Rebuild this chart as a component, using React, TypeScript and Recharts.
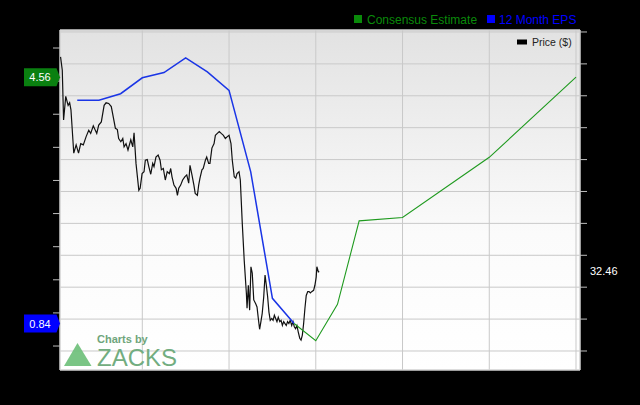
import React from "react";
import {
  ComposedChart,
  Line,
  XAxis,
  YAxis,
  CartesianGrid,
  ReferenceArea,
} from "recharts";

// time axis is in quarters from the first grid line
const gridQuarters = [4, 8, 12, 16, 20, 24];

const epsQuarters = [1, 2, 3, 4, 5, 6, 7, 8, 9, 10, 11];
const epsValues = [4.21, 4.21, 4.31, 4.55, 4.63, 4.85, 4.64, 4.36, 3.13, 1.22, 0.84];

const estQuarters = [11, 12, 13, 14, 16, 20, 24];
const estValues = [0.84, 0.58, 1.13, 2.39, 2.44, 3.35, 4.56];

const priceTimes = [
  0.23, 0.31, 0.37, 0.47, 0.58, 0.65, 0.71, 0.84, 0.95, 1.06, 1.16, 1.28, 1.41, 1.53, 1.62, 1.74,
  1.9, 1.99, 2.11, 2.24, 2.33, 2.45, 2.57, 2.66, 2.76, 2.85, 2.91, 3.01, 3.1, 3.16, 3.25, 3.34,
  3.47, 3.56, 3.62, 3.71, 3.84, 3.9, 3.99, 4.08, 4.14, 4.23, 4.3, 4.39, 4.48, 4.54, 4.63, 4.73,
  4.82, 4.88, 4.97, 5.06, 5.15, 5.25, 5.31, 5.37, 5.46, 5.56, 5.62, 5.68, 5.77, 5.86, 5.96, 6.05,
  6.14, 6.2, 6.29, 6.38, 6.44, 6.54, 6.6, 6.66, 6.75, 6.81, 6.91, 6.97, 7.06, 7.12, 7.21, 7.31,
  7.37, 7.46, 7.55, 7.64, 7.74, 7.83, 7.92, 8.0, 8.09, 8.15, 8.24, 8.31, 8.37, 8.46, 8.52, 8.61,
  8.7, 8.8, 8.83, 8.89, 8.95, 9.01, 9.07, 9.14, 9.23, 9.29, 9.35, 9.41, 9.47, 9.53, 9.6, 9.66,
  9.72, 9.78, 9.84, 9.9, 9.97, 10.03, 10.09, 10.15, 10.21, 10.27, 10.34, 10.4, 10.46, 10.52, 10.58,
  10.64, 10.7, 10.76, 10.82, 10.89, 10.95, 11.01, 11.07, 11.13, 11.19, 11.26, 11.32, 11.38, 11.44,
  11.5, 11.56, 11.63, 11.69, 11.75, 11.81, 11.9, 11.96, 12.02, 12.05, 12.12, 12.16,
];
const priceValues = [
  66.1, 64.0, 56.2, 59.9, 58.5, 58.9, 57.8, 51.0, 52.3, 51.0, 52.5, 52.3, 53.6, 54.6, 54.1, 55.3,
  54.1, 55.4, 55.9, 58.5, 58.9, 58.8, 58.3, 56.7, 54.9, 54.7, 53.3, 52.8, 53.3, 52.0, 52.5, 51.5,
  53.1, 52.0, 54.2, 49.4, 45.2, 45.5, 47.8, 48.1, 49.9, 50.0, 48.9, 47.7, 49.4, 48.9, 50.4, 50.7,
  49.9, 48.4, 48.6, 46.8, 48.1, 47.8, 48.6, 47.3, 46.0, 45.5, 44.4, 45.5, 46.0, 46.8, 47.3, 47.6,
  46.3, 49.1, 47.6, 46.0, 44.7, 44.4, 46.0, 47.1, 48.4, 48.6, 49.9, 50.4, 49.4, 49.4, 51.8, 52.5,
  53.8, 54.1, 54.4, 54.1, 53.8, 53.3, 53.6, 53.8, 52.5, 49.9, 47.3, 47.1, 47.8, 48.1, 46.8, 40.0,
  34.2, 29.0, 26.7, 30.3, 26.4, 33.2, 32.2, 28.0, 27.4, 26.9, 25.1, 23.4, 24.6, 25.9, 28.5, 31.9,
  30.3, 28.5, 26.1, 24.8, 25.1, 24.8, 25.6, 25.1, 24.6, 25.3, 24.6, 24.8, 24.0, 24.6, 24.3,
  24.0, 24.6, 24.3, 24.8, 24.0, 24.6, 23.8, 23.5, 24.0, 23.0, 22.0, 21.7, 22.5, 24.3,
  26.7, 28.7, 29.3, 29.3, 29.1, 29.3, 29.5, 30.3, 31.6, 33.2, 32.4, 32.46,
];

const epsTicks = [0.5, 1, 1.5, 2, 2.5, 3, 3.5, 4, 4.5, 5];
const priceTicks = [20, 25, 30, 35, 40, 45, 50, 55, 60, 65, 70];
const epsTags = [0.84, 4.56];
const priceTags = [32.46];

const timeDomain = [0.205, 24.184];
const epsDomain = [0.138, 5.272];
const priceDomain = [17.02, 70.31];

const zip = (ts: number[], vs: number[]) =>
  ts.slice(0, Math.min(ts.length, vs.length)).map((t, i) => ({ t, v: vs[i] }));

const epsData = zip(epsQuarters, epsValues);
const estData = zip(estQuarters, estValues);
const priceData = zip(priceTimes, priceValues);

const FONT = "'Liberation Sans', Arial, sans-serif";

// tick labels are hidden but the ticks must stay "on" so grid and tick marks are drawn
const NoLabel = () => <g />;

function EpsTag(props: any) {
  const { y, payload } = props;
  const isEst = payload.value > 2;
  const fill = isEst ? "#0a8010" : "#0000ff";
  return (
    <g>
      <path
        d={`M24,${y - 9} L56.5,${y - 9} L60,${y} L56.5,${y + 9} L24,${y + 9} Z`}
        fill={fill}
      />
      <text
        x={40}
        y={y}
        dy={4}
        textAnchor="middle"
        fill="#fff"
        fontSize={11}
        fontFamily={FONT}
      >
        {payload.value.toFixed(2)}
      </text>
    </g>
  );
}

function PriceTag(props: any) {
  const { y, payload } = props;
  return (
    <text x={590} y={y} dy={4} fill="#fff" fontSize={11} fontFamily={FONT}>
      {payload.value.toFixed(2)}
    </text>
  );
}

export default function App() {
  return (
    <div
      style={{
        position: "absolute",
        left: 0,
        top: 0,
        width: 640,
        height: 405,
        background: "#000",
        fontFamily: FONT,
      }}
    >
      <ComposedChart
        width={640}
        height={405}
        margin={{ top: 30, right: 49, bottom: 34, left: 49 }}
      >
        <defs>
          <linearGradient id="plotBg" x1="0" y1="0" x2="0" y2="1">
            <stop offset="0%" stopColor="#e2e2e2" />
            <stop offset="60%" stopColor="#fbfbfb" />
            <stop offset="100%" stopColor="#ffffff" />
          </linearGradient>
        </defs>
        <CartesianGrid
          yAxisId="price"
          fill="url(#plotBg)"
          stroke="#c9c9c9"
          strokeWidth={1}
        />
        <XAxis
          type="number"
          dataKey="t"
          domain={timeDomain}
          ticks={gridQuarters}
          allowDataOverflow
          interval={0}
          height={1}
          tick={NoLabel}
          tickLine={false}
          axisLine={false}
        />
        <YAxis
          yAxisId="eps"
          orientation="left"
          domain={epsDomain}
          ticks={epsTicks}
          allowDataOverflow
          interval={0}
          width={10}
          tick={NoLabel}
          tickSize={7}
          tickLine={{ stroke: "#bdbdbd" }}
          axisLine={false}
        />
        <YAxis
          yAxisId="epsTag"
          orientation="left"
          domain={epsDomain}
          ticks={epsTags}
          allowDataOverflow
          interval={0}
          width={1}
          tick={<EpsTag />}
          tickLine={false}
          axisLine={false}
        />
        <YAxis
          yAxisId="price"
          orientation="right"
          domain={priceDomain}
          ticks={priceTicks}
          allowDataOverflow
          interval={0}
          width={10}
          tick={NoLabel}
          tickSize={7}
          tickLine={{ stroke: "#bdbdbd" }}
          axisLine={false}
        />
        <YAxis
          yAxisId="priceTag"
          orientation="right"
          domain={priceDomain}
          ticks={priceTags}
          allowDataOverflow
          interval={0}
          width={1}
          tick={<PriceTag />}
          tickLine={false}
          axisLine={false}
        />
        <ReferenceArea
          yAxisId="price"
          x1={timeDomain[0]}
          x2={timeDomain[1]}
          y1={priceDomain[0]}
          y2={priceDomain[1]}
          fill="none"
          stroke="#d6d6d6"
        />
        <Line
          yAxisId="price"
          data={priceData}
          dataKey="v"
          type="linear"
          stroke="#111"
          strokeWidth={1.2}
          dot={false}
          activeDot={false}
          isAnimationActive={false}
        />
        <Line
          yAxisId="eps"
          data={epsData}
          dataKey="v"
          type="linear"
          stroke="#1a35e6"
          strokeWidth={1.5}
          dot={false}
          activeDot={false}
          isAnimationActive={false}
        />
        <Line
          yAxisId="eps"
          data={estData}
          dataKey="v"
          type="linear"
          stroke="#1f9a1f"
          strokeWidth={1.1}
          dot={false}
          activeDot={false}
          isAnimationActive={false}
        />
      </ComposedChart>

      {/* legends and watermark */}
      <svg
        width={640}
        height={405}
        style={{ position: "absolute", left: 0, top: 0, pointerEvents: "none" }}
      >
        <rect x={354} y={15} width={8} height={8} fill="#0a8a0a" />
        <text x={367} y={23.5} fontSize={12} fill="#0a8a0a" fontFamily={FONT}>
          Consensus Estimate
        </text>
        <rect x={487} y={15} width={8} height={8} fill="#0000ff" />
        <text x={499} y={23.5} fontSize={12} fill="#0000ff" fontFamily={FONT}>
          12 Month EPS
        </text>

        <rect x={517} y={39.5} width={10} height={5} fill="#000" />
        <text x={532} y={46} fontSize={10.5} fill="#222" fontFamily={FONT}>
          Price ($)
        </text>

        <polygon points="64,366 77.5,343 91.5,366" fill="#6cbf78" opacity={0.9} />
        <text
          x={97}
          y={343}
          fontSize={11}
          fontWeight="bold"
          fill="#6fa57b"
          fontFamily={FONT}
        >
          Charts by
        </text>
        <text x={97} y={366} fontSize={24} fill="#72ad80" fontFamily={FONT}>
          ZACKS
        </text>
      </svg>
    </div>
  );
}
